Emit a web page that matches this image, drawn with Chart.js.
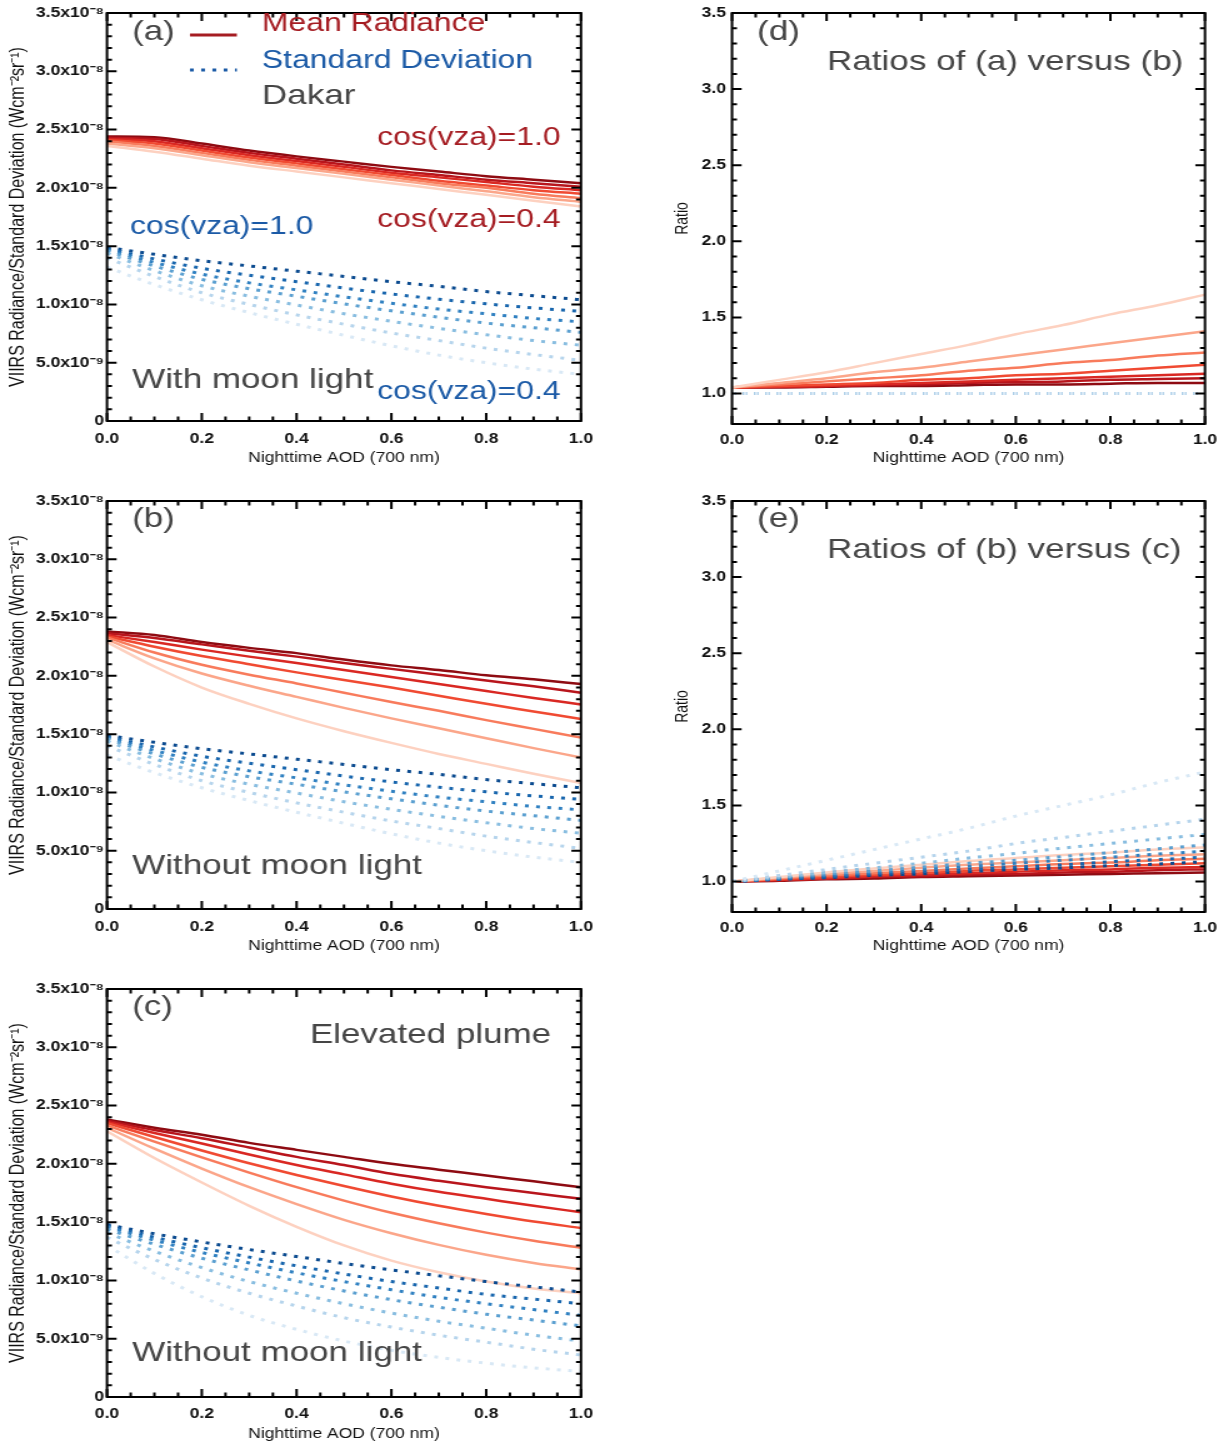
<!DOCTYPE html>
<html>
<head>
<meta charset="utf-8">
<script src="https://cdn.jsdelivr.net/npm/chart.js@4.4.1/dist/chart.umd.min.js"></script>
<style>
  html, body { margin:0; padding:0; background:#fff; overflow:hidden; }
  #fig { position:relative; width:1228px; height:1443px; }
  canvas { position:absolute; }
</style>
</head>
<body>
<div id="fig">
  <!-- canvases are drawn narrow and stretched by css, like the original figure -->
  <canvas id="pa" width="480" height="480" style="left:0;top:0;width:600px;height:480px"></canvas>
  <canvas id="pb" width="480" height="480" style="left:0;top:488px;width:600px;height:480px"></canvas>
  <canvas id="pc" width="480" height="467" style="left:0;top:976px;width:600px;height:467px"></canvas>
  <canvas id="pd" width="454" height="480" style="left:660px;top:0;width:568px;height:480px"></canvas>
  <canvas id="pe" width="454" height="480" style="left:660px;top:488px;width:568px;height:480px"></canvas>
</div>
<script>
// x axis: nighttime AOD at 700 nm
const aod = [0.0, 0.1, 0.2, 0.3, 0.4, 0.5, 0.6, 0.7, 0.8, 0.9, 1.0];
// rows of every table below: cos(vza) = 1.0 ... 0.4
const cosVza = ['1.0', '0.9', '0.8', '0.7', '0.6', '0.5', '0.4'];

const aodTicks = [0, 0.2, 0.4, 0.6, 0.8, 1.0];
const radTicks = [0, 0.5, 1.0, 1.5, 2.0, 2.5, 3.0, 3.5];   // x10^-8
const ratioTicks = [1.0, 1.5, 2.0, 2.5, 3.0, 3.5];

// (a) mean radiance with moon light, x10^-8 W cm-2 sr-1
const meanMoon = [
  [2.44, 2.435, 2.38, 2.32, 2.27, 2.225, 2.18, 2.14, 2.10, 2.07, 2.04],
  [2.43, 2.42, 2.36, 2.30, 2.25, 2.20, 2.15, 2.11, 2.07, 2.04, 2.01],
  [2.42, 2.40, 2.34, 2.28, 2.23, 2.18, 2.13, 2.09, 2.05, 2.01, 1.98],
  [2.41, 2.38, 2.32, 2.26, 2.21, 2.16, 2.11, 2.06, 2.02, 1.98, 1.95],
  [2.40, 2.36, 2.30, 2.24, 2.19, 2.14, 2.09, 2.04, 2.00, 1.95, 1.91],
  [2.38, 2.34, 2.28, 2.22, 2.17, 2.12, 2.07, 2.02, 1.97, 1.92, 1.88],
  [2.36, 2.31, 2.25, 2.19, 2.14, 2.09, 2.04, 1.99, 1.94, 1.89, 1.84]
];

// (b) mean radiance without moon light
const meanNoMoon = [
  [2.38, 2.35, 2.29, 2.24, 2.195, 2.14, 2.09, 2.05, 2.005, 1.97, 1.93],
  [2.365, 2.325, 2.27, 2.215, 2.165, 2.11, 2.06, 2.01, 1.96, 1.91, 1.855],
  [2.35, 2.29, 2.225, 2.165, 2.11, 2.05, 1.99, 1.93, 1.87, 1.81, 1.755],
  [2.34, 2.25, 2.17, 2.10, 2.03, 1.965, 1.90, 1.83, 1.76, 1.695, 1.63],
  [2.33, 2.20, 2.095, 2.01, 1.935, 1.855, 1.775, 1.70, 1.62, 1.545, 1.47],
  [2.31, 2.15, 2.02, 1.915, 1.82, 1.725, 1.635, 1.55, 1.465, 1.38, 1.30],
  [2.29, 2.08, 1.90, 1.76, 1.635, 1.525, 1.425, 1.33, 1.245, 1.16, 1.08]
];

// (c) mean radiance, elevated plume
const meanPlume = [
  [2.38, 2.31, 2.25, 2.18, 2.12, 2.06, 2.00, 1.95, 1.90, 1.85, 1.80],
  [2.37, 2.29, 2.22, 2.14, 2.06, 1.99, 1.915, 1.855, 1.80, 1.75, 1.70],
  [2.36, 2.265, 2.175, 2.08, 1.99, 1.91, 1.83, 1.76, 1.70, 1.64, 1.585],
  [2.35, 2.23, 2.115, 2.005, 1.905, 1.81, 1.72, 1.64, 1.57, 1.505, 1.45],
  [2.33, 2.19, 2.055, 1.925, 1.80, 1.685, 1.58, 1.49, 1.41, 1.34, 1.28],
  [2.31, 2.13, 1.96, 1.80, 1.655, 1.52, 1.405, 1.305, 1.22, 1.15, 1.095],
  [2.28, 2.05, 1.84, 1.64, 1.46, 1.30, 1.17, 1.07, 0.99, 0.93, 0.89]
];

// standard deviation, Dakar (same in a and b)
const sdDakar = [
  [1.49, 1.43, 1.375, 1.33, 1.285, 1.24, 1.195, 1.155, 1.11, 1.075, 1.04],
  [1.48, 1.39, 1.31, 1.25, 1.195, 1.14, 1.09, 1.045, 1.005, 0.97, 0.94],
  [1.47, 1.36, 1.26, 1.185, 1.125, 1.065, 1.01, 0.96, 0.92, 0.88, 0.85],
  [1.46, 1.33, 1.215, 1.135, 1.07, 1.005, 0.945, 0.89, 0.84, 0.80, 0.76],
  [1.44, 1.29, 1.16, 1.07, 0.995, 0.92, 0.855, 0.795, 0.74, 0.69, 0.65],
  [1.40, 1.24, 1.10, 1.00, 0.91, 0.83, 0.755, 0.69, 0.625, 0.57, 0.52],
  [1.32, 1.17, 1.04, 0.93, 0.83, 0.735, 0.645, 0.565, 0.50, 0.445, 0.40]
];

// standard deviation, elevated plume
const sdPlume = [
  [1.48, 1.40, 1.33, 1.265, 1.205, 1.145, 1.09, 1.04, 0.99, 0.945, 0.90],
  [1.47, 1.37, 1.28, 1.20, 1.125, 1.055, 0.99, 0.935, 0.88, 0.84, 0.80],
  [1.46, 1.345, 1.24, 1.15, 1.065, 0.99, 0.92, 0.855, 0.80, 0.75, 0.70],
  [1.44, 1.31, 1.19, 1.09, 0.995, 0.91, 0.835, 0.77, 0.71, 0.66, 0.61],
  [1.41, 1.25, 1.11, 0.99, 0.89, 0.80, 0.72, 0.65, 0.59, 0.53, 0.48],
  [1.37, 1.18, 1.02, 0.89, 0.78, 0.68, 0.60, 0.53, 0.47, 0.41, 0.36],
  [1.30, 1.06, 0.86, 0.70, 0.58, 0.48, 0.40, 0.34, 0.29, 0.25, 0.22]
];

// (d) ratios of (a) versus (b)
const ratioMeanAB = [
  [1.04, 1.04, 1.045, 1.05, 1.05, 1.055, 1.06, 1.06, 1.065, 1.07, 1.07],
  [1.04, 1.045, 1.05, 1.055, 1.06, 1.07, 1.075, 1.08, 1.09, 1.095, 1.10],
  [1.04, 1.045, 1.05, 1.06, 1.07, 1.08, 1.09, 1.10, 1.11, 1.12, 1.13],
  [1.04, 1.05, 1.06, 1.07, 1.09, 1.10, 1.12, 1.13, 1.15, 1.17, 1.19],
  [1.04, 1.06, 1.08, 1.10, 1.12, 1.15, 1.17, 1.20, 1.22, 1.25, 1.27],
  [1.04, 1.07, 1.10, 1.14, 1.17, 1.21, 1.25, 1.29, 1.33, 1.37, 1.41],
  [1.04, 1.09, 1.14, 1.20, 1.26, 1.32, 1.39, 1.45, 1.52, 1.58, 1.65]
];
const ratioSdAB = [1.0, 1.0, 1.0, 1.0, 1.0, 1.0, 1.0, 1.0, 1.0, 1.0, 1.0];

// (e) ratios of (b) versus (c)
const ratioMeanBC = [
  [1.00, 1.005, 1.015, 1.02, 1.03, 1.035, 1.04, 1.045, 1.05, 1.055, 1.06],
  [1.00, 1.01, 1.02, 1.03, 1.035, 1.045, 1.05, 1.06, 1.065, 1.075, 1.08],
  [1.00, 1.01, 1.02, 1.035, 1.045, 1.055, 1.065, 1.075, 1.08, 1.09, 1.095],
  [1.00, 1.015, 1.03, 1.045, 1.055, 1.07, 1.08, 1.09, 1.10, 1.11, 1.12],
  [1.00, 1.02, 1.04, 1.055, 1.07, 1.085, 1.10, 1.115, 1.125, 1.14, 1.15],
  [1.00, 1.025, 1.05, 1.07, 1.09, 1.11, 1.125, 1.14, 1.155, 1.17, 1.18],
  [1.00, 1.03, 1.06, 1.085, 1.11, 1.135, 1.155, 1.175, 1.19, 1.21, 1.225]
];
const ratioSdBC = [
  [1.00, 1.015, 1.025, 1.04, 1.05, 1.065, 1.08, 1.09, 1.105, 1.115, 1.13],
  [1.00, 1.015, 1.03, 1.05, 1.065, 1.08, 1.095, 1.11, 1.13, 1.145, 1.16],
  [1.00, 1.02, 1.04, 1.06, 1.08, 1.10, 1.12, 1.14, 1.16, 1.18, 1.20],
  [1.00, 1.025, 1.05, 1.07, 1.095, 1.12, 1.14, 1.165, 1.19, 1.215, 1.24],
  [1.00, 1.03, 1.06, 1.09, 1.12, 1.155, 1.185, 1.22, 1.25, 1.28, 1.31],
  [1.00, 1.04, 1.08, 1.12, 1.16, 1.20, 1.25, 1.29, 1.33, 1.37, 1.41],
  [1.00, 1.07, 1.14, 1.21, 1.28, 1.35, 1.43, 1.50, 1.57, 1.65, 1.72]
];

// colours, cos(vza)=1.0 first
const redShades = ['#8e0b12', '#b8151c', '#d92823', '#f04a32', '#f87b5c', '#fba68a', '#fdd1c0'];
const blueShades = ['#0a4a8f', '#1765ad', '#2f80c1', '#5a9fd0', '#88bde0', '#b5d4ec', '#d8e8f5'];
const GRAY = '#454545', RED = '#a51c22', BLUE = '#1b5aa6', INK = '#111';
const FONT = '"Liberation Sans", Arial, Helvetica, sans-serif';

function toXY(row){
  return row.map((v, i) => ({x: aod[i], y: v}));
}

function buildSets(redRows, blueRows){
  const sets = [];
  // light shades first so the dark ones end up on top
  for(let i = cosVza.length - 1; i >= 0; i--){
    sets.push({
      label: 'SD cos(vza)=' + cosVza[i],
      data: toXY(blueRows[i]),
      borderColor: blueShades[i],
      borderWidth: 3,
      borderDash: [3, 6]
    });
  }
  for(let i = cosVza.length - 1; i >= 0; i--){
    sets.push({
      label: 'Mean cos(vza)=' + cosVza[i],
      data: toXY(redRows[i]),
      borderColor: redShades[i],
      borderWidth: 2.5
    });
  }
  return sets;
}

// box with inward ticks on all four sides (IDL style)
const framePlugin = {
  id: 'frame',
  afterDatasetsDraw(chart, args, opts){
    const {ctx, chartArea: {left, right, top, bottom}, scales: {x, y}} = chart;
    ctx.save();
    ctx.setLineDash([]);
    ctx.strokeStyle = '#000';
    ctx.lineWidth = 2;
    ctx.beginPath();
    const isMajor = (v, step) => Math.abs(v / step - Math.round(v / step)) < 1e-6;
    for(let v = Math.ceil(x.min / opts.minorX - 1e-6) * opts.minorX; v <= x.max + 1e-9; v += opts.minorX){
      const p = x.getPixelForValue(v);
      const len = isMajor(v, opts.majorX) ? 8 : 4.5;
      ctx.moveTo(p, bottom); ctx.lineTo(p, bottom - len);
      ctx.moveTo(p, top); ctx.lineTo(p, top + len);
    }
    for(let v = Math.ceil(y.min / opts.minorY - 1e-6) * opts.minorY; v <= y.max + 1e-9; v += opts.minorY){
      const p = y.getPixelForValue(v);
      const len = isMajor(v, opts.majorY) ? 7.7 : 4;
      ctx.moveTo(left, p); ctx.lineTo(left + len, p);
      ctx.moveTo(right, p); ctx.lineTo(right - len, p);
    }
    ctx.stroke();
    ctx.strokeRect(left, top, right - left, bottom - top);
    ctx.restore();
  }
};

// labels and legend samples, placed in data units
const notesPlugin = {
  id: 'notes',
  afterDraw(chart, args, opts){
    const {ctx, scales: {x, y}} = chart;
    ctx.save();
    for(const n of opts.items || []){
      const px = x.getPixelForValue(n.x), py = y.getPixelForValue(n.y);
      if(n.text){
        ctx.font = n.size + 'px ' + FONT;
        ctx.fillStyle = n.color;
        ctx.textAlign = 'left';
        ctx.textBaseline = 'middle';
        ctx.fillText(n.text, px, py);
      } else {
        ctx.beginPath();
        ctx.setLineDash(n.dash || []);
        ctx.strokeStyle = n.color;
        ctx.lineWidth = n.width;
        ctx.moveTo(px, py);
        ctx.lineTo(x.getPixelForValue(n.x2), py);
        ctx.stroke();
      }
    }
    ctx.restore();
  }
};

function radLabel(v){
  if(v === 0) return '0';
  if(v < 1) return (v * 10).toFixed(1) + 'x10⁻⁹';
  return v.toFixed(1) + 'x10⁻⁸';
}

// lay = css geometry inside the canvas
function makePanel(id, lay, sets, yAxis, notes){
  const canvas = document.getElementById(id);
  const sx = lay.cssW / canvas.width;
  const tickFont = {family: FONT, size: 14, weight: 'bold'};
  const titleFont = {family: FONT, size: 14};
  const yTitleFont = {family: FONT, size: yAxis.titleSize};
  const noEdgePad = s => { s.paddingLeft = 0; s.paddingRight = 0; s.paddingTop = 0; s.paddingBottom = 0; };
  return new Chart(canvas, {
    type: 'line',
    data: {datasets: sets},
    options: {
      responsive: false,
      animation: false,
      devicePixelRatio: 1,
      layout: {autoPadding: false, padding: {left: 0, top: lay.t, right: (lay.cssW - lay.r) / sx, bottom: 0}},
      elements: {point: {radius: 0}, line: {cubicInterpolationMode: 'monotone', borderCapStyle: 'butt'}},
      plugins: {
        legend: {display: false},
        tooltip: {enabled: false},
        frame: {majorX: 0.2, minorX: 0.05, majorY: 0.5, minorY: 0.1},
        notes: {items: notes}
      },
      scales: {
        x: {
          type: 'linear', min: 0, max: 1,
          afterFit: s => { s.height = lay.cssH - lay.b; noEdgePad(s); },
          afterBuildTicks: s => { s.ticks = aodTicks.map(v => ({value: v})); },
          grid: {display: false, drawTicks: false}, border: {display: false},
          ticks: {font: tickFont, color: INK, padding: lay.xLabelY - lay.b - 8.4, maxRotation: 0, autoSkip: false,
                  callback: v => v.toFixed(1)},
          title: {display: true, text: 'Nighttime AOD (700 nm)', font: titleFont, color: INK,
                  padding: {top: 0, bottom: lay.cssH - lay.xTitleY - 8.4}}
        },
        y: {
          type: 'linear', min: yAxis.min, max: yAxis.max,
          afterFit: s => { s.width = lay.l / sx; noEdgePad(s); },
          afterBuildTicks: s => { s.ticks = yAxis.ticks.map(v => ({value: v})); },
          grid: {display: false, drawTicks: false}, border: {display: false},
          ticks: {font: tickFont, color: INK, padding: (lay.l - lay.yLabelRight) / sx, autoSkip: false,
                  callback: yAxis.label},
          title: {display: true, text: yAxis.title, font: yTitleFont, color: INK,
                  padding: {top: lay.yTitleX / sx - yAxis.titleSize * 0.6, bottom: 0}}
        }
      }
    },
    plugins: [framePlugin, notesPlugin]
  });
}

const layLeft = {cssW: 600, cssH: 480, l: 107, t: 13, r: 581, b: 421, xLabelY: 439, xTitleY: 458.5, yTitleX: 18, yLabelRight: 104};
const layLeftC = Object.assign({}, layLeft, {cssH: 467, xLabelY: 438, xTitleY: 458});
const layRight = {cssW: 568, cssH: 480, l: 72, t: 13, r: 545, b: 424, xLabelY: 440, xTitleY: 458.5, yTitleX: 23, yLabelRight: 66};

const radAxis = {min: 0, max: 3.5, ticks: radTicks, label: radLabel, titleSize: 16,
                 title: 'VIIRS Radiance/Standard Deviation (Wcm⁻²sr⁻¹)'};
const ratioAxis = {min: 0.8, max: 3.5, ticks: ratioTicks, label: v => v.toFixed(1), titleSize: 14, title: 'Ratio'};

makePanel('pa', layLeft, buildSets(meanMoon, sdDakar), radAxis, [
  {text: '(a)', x: 0.053, y: 3.337, color: GRAY, size: 28},
  {x: 0.175, x2: 0.274, y: 3.311, color: RED, width: 3},
  {text: 'Mean Radiance', x: 0.327, y: 3.406, color: RED, size: 25.5},
  {x: 0.175, x2: 0.274, y: 3.011, color: BLUE, width: 3, dash: [3, 6]},
  {text: 'Standard Deviation', x: 0.327, y: 3.088, color: BLUE, size: 25.5},
  {text: 'Dakar', x: 0.327, y: 2.788, color: GRAY, size: 28},
  {text: 'cos(vza)=1.0', x: 0.570, y: 2.428, color: RED, size: 25.5},
  {text: 'cos(vza)=0.4', x: 0.570, y: 1.724, color: RED, size: 25.5},
  {text: 'cos(vza)=1.0', x: 0.0485, y: 1.664, color: BLUE, size: 25.5},
  {text: 'With moon light', x: 0.053, y: 0.352, color: GRAY, size: 28},
  {text: 'cos(vza)=0.4', x: 0.570, y: 0.249, color: BLUE, size: 25.5}
]);

makePanel('pb', layLeft, buildSets(meanNoMoon, sdDakar), radAxis, [
  {text: '(b)', x: 0.053, y: 3.346, color: GRAY, size: 28},
  {text: 'Without moon light', x: 0.053, y: 0.369, color: GRAY, size: 28}
]);

makePanel('pc', layLeftC, buildSets(meanPlume, sdPlume), radAxis, [
  {text: '(c)', x: 0.053, y: 3.346, color: GRAY, size: 28},
  {text: 'Elevated plume', x: 0.428, y: 3.105, color: GRAY, size: 28},
  {text: 'Without moon light', x: 0.053, y: 0.377, color: GRAY, size: 28}
]);

makePanel('pd', layRight, buildSets(ratioMeanAB, cosVza.map(() => ratioSdAB)), ratioAxis, [
  {text: '(d)', x: 0.053, y: 3.376, color: GRAY, size: 28},
  {text: 'Ratios of (a) versus (b)', x: 0.201, y: 3.178, color: GRAY, size: 28}
]);

makePanel('pe', layRight, buildSets(ratioMeanBC, ratioSdBC), ratioAxis, [
  {text: '(e)', x: 0.053, y: 3.382, color: GRAY, size: 28},
  {text: 'Ratios of (b) versus (c)', x: 0.201, y: 3.178, color: GRAY, size: 28}
]);
</script>
</body>
</html>
